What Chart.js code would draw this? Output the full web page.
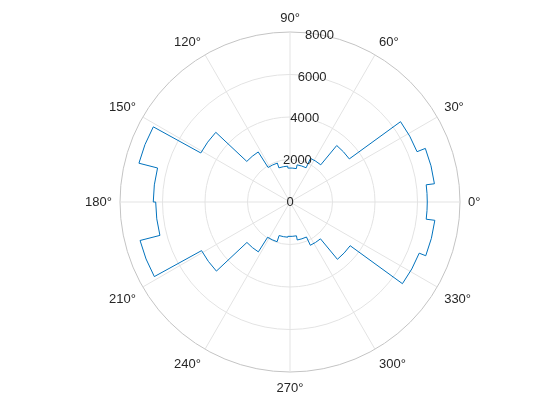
<!DOCTYPE html>
<html>
<head>
<meta charset="utf-8">
<script src="https://cdn.jsdelivr.net/npm/chart.js@4.4.1/dist/chart.umd.min.js"></script>
<style>
html,body{margin:0;padding:0;background:#ffffff;overflow:hidden;}
canvas{display:block;}
</style>
</head>
<body>
<canvas id="c" width="560" height="420"></canvas>
<script>
// ---- data ----
// bin centres in degrees (counter-clockwise from 0°), each bin 14.4° wide
const binCenters = [0, 14.4, 28.8, 43.2, 57.6, 72, 86.4, 100.8, 115.2, 129.6, 144, 158.4, 172.8,
                    187.2, 201.6, 216, 230.4, 244.8, 259.2, 273.6, 288, 302.4, 316.8, 331.2, 345.6];
const binCounts  = [6460, 6850, 6430, 3450, 2270, 1780, 1600, 1690, 1925, 2790, 4790, 7340, 6435,
                    6320, 7285, 4750, 2780, 1965, 1660, 1620, 1820, 2250, 3500, 6540, 6870];
const binWidth = 14.4;
const thetaTicks = [0, 30, 60, 90, 120, 150, 180, 210, 240, 270, 300, 330];
const rTicks = [0, 2000, 4000, 6000, 8000];

// ---- build library tables ----
// Chart.js polar area runs clockwise from the right-hand side; the data go
// counter-clockwise, so walk the bins backwards. Bin 0 straddles 0° and is split in two halves.
const arcValues = [binCounts[0]];
const arcAngles = [binWidth / 2];
for (let k = binCounts.length - 1; k >= 1; k--) {
  arcValues.push(binCounts[k]);
  arcAngles.push(binWidth);
}
arcValues.push(binCounts[0]);
arcAngles.push(binWidth / 2);

const thetaLabels = [thetaTicks[0]].concat(thetaTicks.slice(1).reverse()).map(t => t + '\u00B0');

const TEXT = '#262626';
const FONT = '13px "Liberation Sans", Arial, Helvetica, sans-serif';
const R_LABEL_ANGLE = 80;

const polarDecor = {
  id: 'polarDecor',
  afterDatasetsDraw(chart) {
    const ctx = chart.ctx;
    const scale = chart.scales.r;
    const meta = chart.getDatasetMeta(0);
    ctx.save();
    // stairs outline
    ctx.beginPath();
    meta.data.forEach(el => {
      ctx.arc(el.x, el.y, el.outerRadius, el.startAngle, el.endAngle);
    });
    ctx.closePath();
    ctx.strokeStyle = '#0072BD';
    ctx.lineWidth = 1;
    ctx.stroke();

    ctx.font = FONT;
    ctx.fillStyle = TEXT;
    // radial tick labels along 80°
    ctx.textAlign = 'center';
    ctx.textBaseline = 'middle';
    const ra = R_LABEL_ANGLE * Math.PI / 180;
    rTicks.forEach(v => {
      const d = scale.getDistanceFromCenterForValue(v);
      ctx.fillText(String(v), scale.xCenter + d * Math.cos(ra), scale.yCenter - d * Math.sin(ra) + 0.5);
    });
    // angular labels
    thetaLabels.forEach((lab, i) => {
      const p = scale.getPointPosition(i, scale.drawingArea + 8);
      let a = Math.round(((p.angle + Math.PI / 2) * 180 / Math.PI % 360 + 360) % 360);
      ctx.textAlign = (a === 0 || a === 180) ? 'center' : (a < 180 ? 'left' : 'right');
      let y = p.y;
      if (a === 90 || a === 270) { ctx.textBaseline = 'middle'; }
      else if (a > 270 || a < 90) { ctx.textBaseline = 'alphabetic'; y -= 2; }
      else { ctx.textBaseline = 'top'; y += 1.5; }
      ctx.fillText(lab, p.x, y);
    });
    ctx.restore();
  }
};

new Chart(document.getElementById('c'), {
  type: 'polarArea',
  data: {
    labels: thetaLabels,
    datasets: [{
      data: arcValues,
      angle: (c) => arcAngles[c.dataIndex],
      backgroundColor: 'rgba(0,0,0,0)',
      borderWidth: 0
    }]
  },
  options: {
    responsive: false,
    animation: false,
    layout: { padding: { left: 120, right: 100, top: 32, bottom: 48 } },
    plugins: { legend: { display: false }, tooltip: { enabled: false } },
    scales: {
      r: {
        min: 0,
        max: 8000,
        startAngle: 90,
        ticks: { display: false, stepSize: 2000 },
        grid: {
          circular: true,
          color: (c) => (c.index === 4 ? '#c4c4c4' : '#e3e3e3'),
          lineWidth: 1
        },
        angleLines: { display: true, color: '#e3e3e3', lineWidth: 1 },
        pointLabels: { display: false }
      }
    }
  },
  plugins: [polarDecor]
});
</script>
</body>
</html>
